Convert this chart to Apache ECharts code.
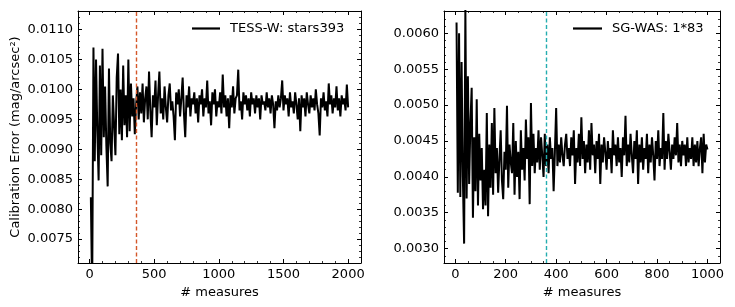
<!DOCTYPE html>
<html><head><meta charset="utf-8">
<script src="https://cdn.jsdelivr.net/npm/echarts@6/dist/echarts.min.js"></script>
<style>html,body{margin:0;padding:0;background:#fff}#c{width:735px;height:307px}</style>
</head><body><div id="c"></div>
<script>
// ---- data ----
const leftName = 'TESS-W: stars393';
const rightName = 'SG-WAS: 1*83';
const leftStart = 10, leftStep = 10;
const rightStart = 5, rightStep = 5;
const leftErr = [
0.00820,0.00660,0.01070,0.00880,0.01050,0.00930,0.00848,0.01040,0.00890,0.01068,
0.00920,0.01005,0.00905,0.00838,0.01035,0.00910,0.00880,0.00990,0.00940,0.00890,
0.01020,0.01060,0.00925,0.01000,0.00915,0.01040,0.00940,0.00990,0.00920,0.01050,
0.00930,0.01010,0.00955,0.00985,0.00925,0.00975,0.01005,0.00950,0.00995,0.00960,
0.01010,0.00945,0.00985,0.01005,0.00950,0.01030,0.00965,0.00920,0.00990,0.00970,
0.01015,0.00940,0.00990,0.01030,0.00960,0.00985,0.00950,0.01005,0.00970,0.00945,
0.00990,0.01010,0.00965,0.00980,0.00955,0.00915,0.00995,0.00975,0.01000,0.00955,
0.00985,0.01020,0.00960,0.00920,0.00990,0.00970,0.01005,0.00955,0.00985,0.00975,
0.00995,0.00960,0.00985,0.00945,0.00990,0.00975,0.01000,0.00955,0.00985,0.00970,
0.01015,0.00960,0.00980,0.00940,0.00995,0.00975,0.01000,0.00955,0.00980,0.00970,
0.00995,0.00960,0.01025,0.00970,0.00990,0.00955,0.00985,0.00935,0.00990,0.00970,
0.01005,0.00960,0.00985,0.00990,0.01033,0.00965,0.00980,0.00950,0.00995,0.00975,
0.00990,0.00965,0.00985,0.00955,0.00995,0.00975,0.00985,0.00960,0.00990,0.00970,
0.00985,0.00950,0.00990,0.00975,0.00980,0.00965,0.00995,0.00970,0.00985,0.00960,
0.00990,0.00975,0.00935,0.00980,0.00965,0.00990,0.00970,0.00985,0.01015,0.00965,
0.00990,0.00975,0.00985,0.00955,0.00995,0.00970,0.00980,0.00960,0.00995,0.00975,
0.00950,0.00985,0.00930,0.00990,0.00970,0.00985,0.00955,0.00995,0.00975,0.00960,
0.00990,0.00970,0.00985,0.00965,0.01000,0.00975,0.00960,0.00923,0.00985,0.00970,
0.00995,0.00965,0.00980,0.00955,0.01010,0.00975,0.00990,0.00960,0.00985,0.00970,
0.01005,0.00965,0.00985,0.00955,0.00990,0.00975,0.00985,0.00965,0.01008,0.00970
];
const rightErr = [
0.00615,0.00378,0.00600,0.00372,0.00560,0.00400,0.00307,0.00635,0.00370,0.00540,
0.00390,0.00475,0.00524,0.00343,0.00455,0.00380,0.00508,0.00360,0.00460,0.00395,
0.00440,0.00355,0.00410,0.00360,0.00489,0.00345,0.00445,0.00385,0.00475,0.00375,
0.00496,0.00405,0.00440,0.00378,0.00425,0.00465,0.00395,0.00369,0.00435,0.00410,
0.00499,0.00385,0.00445,0.00420,0.00405,0.00475,0.00375,0.00450,0.00400,0.00435,
0.00369,0.00465,0.00410,0.00440,0.00395,0.00480,0.00425,0.00455,0.00362,0.00503,
0.00415,0.00460,0.00405,0.00440,0.00420,0.00465,0.00410,0.00455,0.00430,0.00400,
0.00460,0.00415,0.00445,0.00405,0.00455,0.00425,0.00440,0.00380,0.00435,0.00496,
0.00415,0.00445,0.00420,0.00455,0.00430,0.00415,0.00445,0.00460,0.00425,0.00440,
0.00415,0.00455,0.00430,0.00465,0.00390,0.00440,0.00420,0.00460,0.00415,0.00483,
0.00425,0.00450,0.00405,0.00445,0.00420,0.00465,0.00410,0.00475,0.00430,0.00445,
0.00405,0.00450,0.00425,0.00460,0.00390,0.00445,0.00420,0.00455,0.00435,0.00410,
0.00450,0.00425,0.00440,0.00405,0.00465,0.00430,0.00445,0.00415,0.00455,0.00420,
0.00440,0.00400,0.00455,0.00430,0.00485,0.00415,0.00445,0.00420,0.00460,0.00430,
0.00405,0.00450,0.00425,0.00465,0.00390,0.00445,0.00420,0.00455,0.00410,0.00440,
0.00425,0.00460,0.00405,0.00445,0.00420,0.00455,0.00430,0.00395,0.00450,0.00425,
0.00465,0.00415,0.00440,0.00425,0.00489,0.00410,0.00450,0.00425,0.00460,0.00435,
0.00410,0.00445,0.00425,0.00455,0.00430,0.00475,0.00420,0.00445,0.00415,0.00450,
0.00430,0.00445,0.00415,0.00455,0.00420,0.00440,0.00425,0.00455,0.00415,0.00445,
0.00420,0.00450,0.00415,0.00440,0.00455,0.00405,0.00460,0.00420,0.00445,0.00438
];
const cutLine = 360;
const leftXRange = [-89.5, 2099.5];
const rightXRange = [-44.75, 1049.75];
const leftYRange = [0.00710, 0.01131];
const rightYRange = [0.00280, 0.00631];

// ---- build ----
const leftData = leftErr.map((v, i) => [leftStart + i * leftStep, v]);
const rightData = rightErr.map((v, i) => [rightStart + i * rightStep, v]);

const FONT = 'DejaVu Sans';
function xAx(grid, range, iv, minorSplit, pos, showLabel, name) {
  return {
    type: 'value', gridIndex: grid, position: pos, min: range[0], max: range[1],
    minInterval: iv, maxInterval: iv, splitNumber: 4,
    axisLine: { show: true, onZero: false, lineStyle: { color: '#000', width: 1 } },
    axisTick: { show: true, inside: true, length: 4, lineStyle: { color: '#000', width: 1 } },
    minorTick: { show: true, splitNumber: minorSplit, length: 2, lineStyle: { color: '#000', width: 0.8 } },
    splitLine: { show: false }, minorSplitLine: { show: false },
    axisLabel: { show: showLabel, color: '#000', fontFamily: FONT, fontSize: 13, margin: 5,
      showMinLabel: false, showMaxLabel: false, formatter: v => String(Math.round(v)) },
    name: name || '', nameLocation: 'middle', nameGap: 20,
    nameTextStyle: { color: '#000', fontFamily: FONT, fontSize: 13 }
  };
}
function yAx(grid, range, pos, showLabel, name) {
  return {
    type: 'value', gridIndex: grid, position: pos, min: range[0], max: range[1],
    minInterval: 0.0005, maxInterval: 0.0005, splitNumber: 8,
    axisLine: { show: true, onZero: false, lineStyle: { color: '#000', width: 1 } },
    axisTick: { show: true, inside: true, length: 4, lineStyle: { color: '#000', width: 1 } },
    minorTick: { show: true, splitNumber: 5, length: 2, lineStyle: { color: '#000', width: 0.8 } },
    splitLine: { show: false }, minorSplitLine: { show: false },
    axisLabel: { show: showLabel, color: '#000', fontFamily: FONT, fontSize: 13, margin: 5,
      showMinLabel: false, showMaxLabel: false, formatter: v => v.toFixed(4) },
    name: name || '', nameLocation: 'middle', nameGap: 56,
    nameTextStyle: { color: '#000', fontFamily: FONT, fontSize: 13 }
  };
}

const chart = echarts.init(document.getElementById('c'), null, { renderer: 'canvas' });
chart.setOption({
  animation: false,
  backgroundColor: '#fff',
  textStyle: { fontFamily: FONT },
  grid: [
    { left: 78, top: 11, width: 283, height: 252 },
    { left: 444, top: 11, width: 276, height: 252 }
  ],
  xAxis: [
    xAx(0, leftXRange, 500, 5, 'bottom', true, '# measures'),
    xAx(0, leftXRange, 500, 5, 'top', false),
    xAx(1, rightXRange, 200, 4, 'bottom', true, '# measures'),
    xAx(1, rightXRange, 200, 4, 'top', false)
  ],
  yAxis: [
    yAx(0, leftYRange, 'left', true, 'Calibration Error (mag/arcsec²)'),
    yAx(0, leftYRange, 'right', false),
    yAx(1, rightYRange, 'left', true),
    yAx(1, rightYRange, 'right', false)
  ],
  legend: [
    { data: [leftName], left: 187, top: 17, icon: 'rect', itemWidth: 28, itemHeight: 2.2,
      textStyle: { color: '#000', fontFamily: FONT, fontSize: 13, padding: [0, 0, 0, 5] } },
    { data: [rightName], left: 568, top: 17, icon: 'rect', itemWidth: 29, itemHeight: 2.2,
      textStyle: { color: '#000', fontFamily: FONT, fontSize: 13, padding: [0, 0, 0, 5] } }
  ],
  series: [
    { name: leftName, type: 'line', xAxisIndex: 0, yAxisIndex: 0, data: leftData,
      showSymbol: false, symbol: 'none', clip: true, color: '#000',
      lineStyle: { color: '#000', width: 2 },
      markLine: { silent: true, symbol: 'none', label: { show: false },
        lineStyle: { color: '#d4572a', width: 1.4, type: [4, 2.5] },
        data: [{ xAxis: cutLine }] } },
    { name: rightName, type: 'line', xAxisIndex: 2, yAxisIndex: 2, data: rightData,
      showSymbol: false, symbol: 'none', clip: true, color: '#000',
      lineStyle: { color: '#000', width: 2 },
      markLine: { silent: true, symbol: 'none', label: { show: false },
        lineStyle: { color: '#25adb0', width: 1.4, type: [4, 2.5] },
        data: [{ xAxis: cutLine }] } }
  ]
});
</script></body></html>
